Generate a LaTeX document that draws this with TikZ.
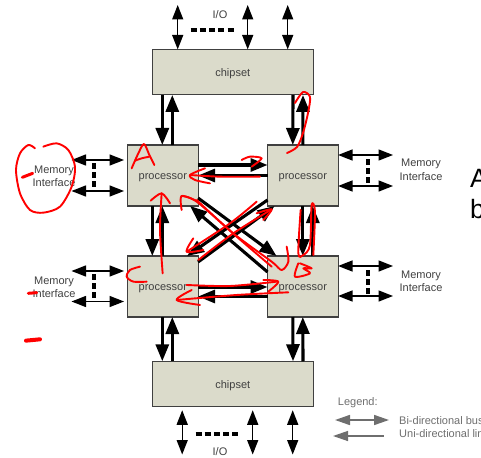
\documentclass[tikz,border=0pt]{standalone}
\usepackage{xcolor}
\usepackage{fontspec}
\setmainfont{Liberation Sans}
\usetikzlibrary{arrows.meta, positioning}
\definecolor{boxfill}{HTML}{DBDBCB}
\definecolor{inkgray}{HTML}{404040}
\definecolor{legendgray}{HTML}{6E6E6E}

\begin{document}
\begin{tikzpicture}[
        x=1pt, y=-1pt,
        procbox/.style={rectangle, draw=inkgray, line width=1.1pt, minimum width=70.5pt, minimum height=61pt, outer sep=0pt, inner sep=0pt, fill=boxfill, text=inkgray, text height=9pt, text depth=1pt, font=\fontsize{11}{13}\selectfont},
        chipbox/.style={procbox, minimum width=160.5pt, minimum height=45.5pt},
        busarrow/.style={{Triangle[length=14.5pt,width=11pt]}-{Triangle[length=14.5pt,width=11pt]}, line width=1.4pt, black},
        linkarrow/.style={-{Triangle[length=17pt,width=13pt]}, line width=3.1pt, black},
        dots/.style={line width=3.2pt, black, dash pattern=on 6pt off 3.2pt},
        label/.style={font=\fontsize{11}{13.5}\selectfont, align=center, text=inkgray, inner sep=0pt},
        legendlabel/.style={font=\fontsize{11}{13.5}\selectfont, text=legendgray, inner sep=0pt, anchor=west},
        legendbus/.style={{Triangle[length=15pt,width=10pt]}-{Triangle[length=15pt,width=10pt]}, line width=1.6pt, legendgray},
        legendlink/.style={{Triangle[length=15pt,width=10pt]}-, line width=1.3pt, legendgray},
        redpen/.style={red, line width=1.9pt, line cap=round, line join=round}
    ]
    \useasboundingbox (0,0) rectangle (481,457);

    \node[procbox] (procA) at (162.8,175.5) {processor};
    \node[procbox, right=69.5pt of procA] (procB) {processor};
    \node[procbox, below=50pt of procA] (procC) {processor};
    \node[procbox, right=69.5pt of procC] (procD) {processor};
    \node[chipbox] (chipTop) at (232.8,72.2) {chipset};
    \node[chipbox] (chipBot) at (232.8,384) {chipset};

    % chipset to processor
    \draw[linkarrow] ([xshift=-70.5pt]chipTop.south) -- ([xshift=-0.5pt]procA.north);
    \draw[linkarrow] ([xshift=9.5pt]procA.north) -- ([xshift=-60.5pt]chipTop.south);
    \draw[linkarrow] ([xshift=60.2pt]chipTop.south) -- ([xshift=-10pt]procB.north);
    \draw[linkarrow] ([xshift=0pt]procB.north) -- ([xshift=70.2pt]chipTop.south);
    \draw[linkarrow] ([xshift=-0.5pt]procC.south) -- ([xshift=-70.5pt]chipBot.north);
    \draw[linkarrow] ([xshift=-60.5pt]chipBot.north) -- ([xshift=9.5pt]procC.south);
    \draw[linkarrow] ([xshift=-10pt]procD.south) -- ([xshift=60.2pt]chipBot.north);
    \draw[linkarrow] ([xshift=70.2pt]chipBot.north) -- ([xshift=0pt]procD.south);

    % processor to processor
    \draw[linkarrow] ([yshift=10.5pt]procA.east) -- ([yshift=10.5pt]procB.west);
    \draw[linkarrow] ([yshift=0pt]procB.west) -- ([yshift=0pt]procA.east);
    \draw[linkarrow] ([yshift=-0.5pt]procC.east) -- ([yshift=-0.5pt]procD.west);
    \draw[linkarrow] ([yshift=-10pt]procD.west) -- ([yshift=-10pt]procC.east);
    \draw[linkarrow] ([xshift=-10.5pt]procA.south) -- ([xshift=-10.5pt]procC.north);
    \draw[linkarrow] ([xshift=-0.5pt]procC.north) -- ([xshift=-0.5pt]procA.south);
    \draw[linkarrow] ([xshift=0pt]procB.south) -- ([xshift=0pt]procD.north);
    \draw[linkarrow] ([xshift=10pt]procD.north) -- ([xshift=10pt]procB.south);
    \draw[linkarrow] ([yshift=8pt]procA.south east) -- ([xshift=9pt]procD.north west);
    \draw[linkarrow] ([yshift=-16pt]procD.north west) -- ([xshift=-8pt]procA.south east);
    \draw[linkarrow] ([yshift=6pt]procB.south west) -- ([xshift=-11pt]procC.north east);
    \draw[linkarrow] ([yshift=-6pt]procC.north east) -- ([xshift=7pt]procB.south west);

    % i/o
    \coordinate (ioTop1) at (177.7,5);
    \coordinate (ioTop2) at (247.7,5);
    \coordinate (ioTop3) at (287.7,5);
    \coordinate (ioBot1) at (182.2,454.5);
    \coordinate (ioBot2) at (252.7,454.5);
    \coordinate (ioBot3) at (292.7,454.5);
    \draw[busarrow] (ioTop1) -- (ioTop1 |- chipTop.north);
    \draw[busarrow] (ioTop2) -- (ioTop2 |- chipTop.north);
    \draw[busarrow] (ioTop3) -- (ioTop3 |- chipTop.north);
    \draw[busarrow, shorten <=3.5pt] (ioBot1 |- chipBot.south) -- (ioBot1);
    \draw[busarrow, shorten <=3.5pt] (ioBot2 |- chipBot.south) -- (ioBot2);
    \draw[busarrow, shorten <=3.5pt] (ioBot3 |- chipBot.south) -- (ioBot3);
    \coordinate (ioDotsTop) at (190.7,30);
    \coordinate (ioDotsTopEnd) at (234,30);
    \coordinate (ioDotsBot) at (195.5,434);
    \coordinate (ioDotsBotEnd) at (239,434);
    \draw[dots] (ioDotsTop) -- (ioDotsTopEnd);
    \draw[dots] (ioDotsBot) -- (ioDotsBotEnd);
    \node[label] (ioLabelTop) at (220,15) {I/O};
    \node[label] (ioLabelBot) at (220,451.5) {I/O};

    % memory interfaces
    \coordinate (memA1) at (71.5,160);
    \coordinate (memA2) at (71.5,191);
    \coordinate (memC1) at (71.5,271);
    \coordinate (memC2) at (71.5,301.5);
    \coordinate (memB1) at (393,155);
    \coordinate (memB2) at (393,186);
    \coordinate (memD1) at (393,266);
    \coordinate (memD2) at (393,296);
    \draw[busarrow, shorten >=3.5pt] (memA1) -- (memA1 -| procA.west);
    \draw[busarrow, shorten >=3.5pt] (memA2) -- (memA2 -| procA.west);
    \draw[busarrow, shorten >=3.5pt] (memC1) -- (memC1 -| procC.west);
    \draw[busarrow, shorten >=3.5pt] (memC2) -- (memC2 -| procC.west);
    \draw[busarrow] (memB1 -| procB.east) -- (memB1);
    \draw[busarrow] (memB2 -| procB.east) -- (memB2);
    \draw[busarrow] (memD1 -| procD.east) -- (memD1);
    \draw[busarrow] (memD2 -| procD.east) -- (memD2);
    \coordinate (dotsA) at (94,163);
    \coordinate (dotsAEnd) at (94,188);
    \coordinate (dotsC) at (94,274);
    \coordinate (dotsCEnd) at (94,299);
    \coordinate (dotsB) at (368,159);
    \coordinate (dotsBEnd) at (368,183);
    \coordinate (dotsD) at (368,270);
    \coordinate (dotsDEnd) at (368,294);
    \draw[dots] (dotsA) -- (dotsAEnd);
    \draw[dots] (dotsC) -- (dotsCEnd);
    \draw[dots] (dotsB) -- (dotsBEnd);
    \draw[dots] (dotsD) -- (dotsDEnd);
    \node[label] (memLabelA) at (54,176.5) {Memory\\Interface};
    \node[label] (memLabelC) at (54,287.5) {Memory\\Interface};
    \node[label] (memLabelB) at (421,170) {Memory\\Interface};
    \node[label] (memLabelD) at (421,281.5) {Memory\\Interface};

    % cut off text at the right
    \node[font=\fontsize{26.5}{31}\selectfont, anchor=base west, inner sep=0pt] (sideA) at (470,187) {A};
    \node[font=\fontsize{26.5}{31}\selectfont, anchor=base west, inner sep=0pt] (sideB) at (470,218) {b};

    % legend
    \node[legendlabel] (legendTitle) at (337.7,402.5) {Legend:};
    \coordinate (legendBusL) at (335,420);
    \coordinate (legendBusR) at (389,420);
    \coordinate (legendLinkL) at (333,436);
    \coordinate (legendLinkR) at (384,436);
    \draw[legendbus] (legendBusL) -- (legendBusR);
    \draw[legendlink] (legendLinkL) -- (legendLinkR);
    \node[legendlabel] (legendBus) at (399,420.5) {Bi-directional bus};
    \node[legendlabel] (legendLink) at (399,434) {Uni-directional link};

    % red pen marks
    \begin{scope}[shift={(120,130)}, x=0.3333pt, y=-0.3333pt]
        \draw[redpen] plot[smooth] coordinates {(35,115) (55,70) (72,42) (88,75) (103,105)};
        \draw[redpen] plot[smooth] coordinates {(45,92) (65,85) (88,80)};
        \draw[redpen] plot[smooth] coordinates {(60,410) (30,420) (20,440) (40,455) (80,455)};
        \draw[redpen] plot[smooth] coordinates {(535,400) (525,440) (570,430) (550,415) (575,415) (540,400)};
        % A to B, B to A
        \draw[redpen] plot[smooth] coordinates {(365,90) (390,80) (425,85) (395,110)};
        \draw[redpen] plot[smooth] coordinates {(420,140) (300,140) (210,135)};
        \draw[redpen] plot[smooth] coordinates {(255,115) (210,135) (225,150) (270,160)};
        % C to A
        \draw[redpen] plot[smooth] coordinates {(128,430) (120,300) (125,190)};
        \draw[redpen] plot[smooth] coordinates {(92,212) (125,190) (150,220)};
        % diagonals
        \draw[redpen] plot[smooth] coordinates {(455,410) (350,320) (230,215) (185,198)};
        \draw[redpen] plot[smooth] coordinates {(185,240) (185,198) (235,215)};
        \draw[redpen] plot[smooth] coordinates {(230,210) (340,310) (455,395) (485,420) (505,395) (500,350)};
        \draw[redpen] plot[smooth] coordinates {(410,215) (330,280) (200,365)};
        \draw[redpen] plot[smooth] coordinates {(220,325) (200,365) (250,360)};
        \draw[redpen] plot[smooth] coordinates {(235,390) (340,310) (455,238)};
        \draw[redpen] plot[smooth] coordinates {(410,250) (455,238) (430,270)};
        % C to D, D to C
        \draw[redpen] plot[smooth] coordinates {(200,465) (330,468) (470,455)};
        \draw[redpen] plot[smooth] coordinates {(430,450) (475,455) (445,485)};
        \draw[redpen] plot[smooth] coordinates {(505,487) (350,495) (170,510)};
        \draw[redpen] plot[smooth] coordinates {(215,480) (170,510) (240,525)};
        % D to B
        \draw[redpen] plot[smooth] coordinates {(542,240) (535,370) (550,375) (570,345) (575,225) (585,245) (580,375)};
    \end{scope}
    \draw[redpen] plot[smooth] coordinates {(295,103) (303,92) (310,97) (308,113) (303,133) (297,147) (287,153)};
    \begin{scope}[shift={(0,130)}, x=0.3333pt, y=-0.3333pt]
        \draw[redpen] plot[smooth] coordinates {(105,55) (85,45) (60,70) (48,120) (60,190) (90,240) (130,248) (180,230) (215,170) (225,110) (205,60) (170,40) (130,50)};
        \draw[redpen, line width=3pt] plot[smooth] coordinates {(67,142) (98,130)};
        \draw[redpen, line width=3pt] plot[smooth] coordinates {(85,490) (110,488)};
        \draw[redpen, line width=4pt] plot[smooth] coordinates {(78,632) (120,628)};
    \end{scope}
\end{tikzpicture}
\end{document}
